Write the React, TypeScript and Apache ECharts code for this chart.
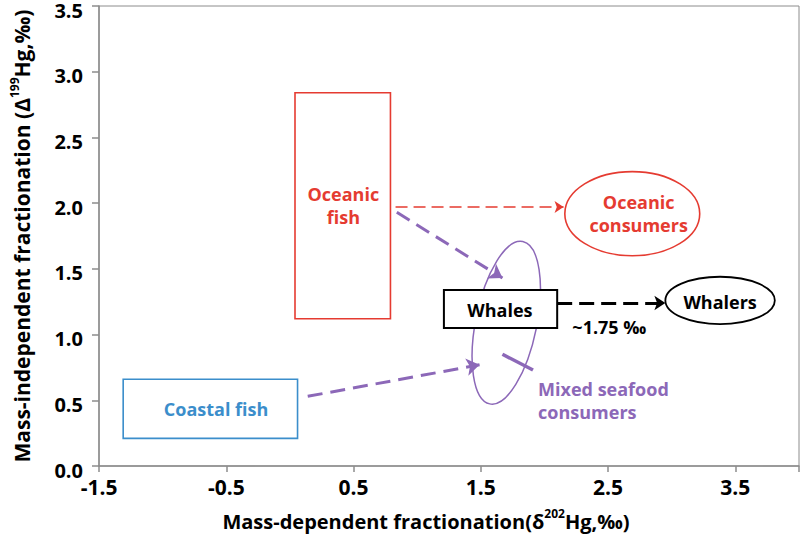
import React, { useEffect, useRef } from "react";
import * as echarts from "echarts";

// ---- axis ranges & tick labels ----
const X_MIN = -1.5;
const X_MAX = 4.0;
const Y_MIN = 0;
const Y_MAX = 3.5;
const xTickLabels = ["-1.5", "-0.5", "0.5", "1.5", "2.5", "3.5"];
const yTickLabels = ["0.0", "0.5", "1.0", "1.5", "2.0", "2.5", "3.0", "3.5"];

// ---- rectangles (data coords) ----
const boxNames = ["Oceanic fish", "Coastal fish", "Whales"];
const boxXRange = [
  [0.04, 0.79],
  [-1.31, 0.06],
  [1.21, 2.1],
];
const boxYRange = [
  [1.12, 2.84],
  [0.21, 0.66],
  [1.05, 1.34],
];

// ---- ellipses (data coords) ----
const ellipseNames = ["Mixed seafood consumers", "Oceanic consumers", "Whalers"];
const ellipseCenter = [
  [1.7, 1.09],
  [2.69, 1.92],
  [3.38, 1.26],
];
const ellipseRadius = [
  [0.24, 0.63],
  [0.53, 0.32],
  [0.43, 0.18],
];
const ellipseTiltDeg = [11.5, 0, 0];

// ---- arrows (data coords) ----
const arrowNames = ["fish→oceanic consumers", "oceanic fish→mixed", "coastal fish→mixed", "whales→whalers"];
const arrowFrom = [
  [0.83, 1.97],
  [0.84, 1.93],
  [0.14, 0.53],
  [2.1, 1.24],
];
const arrowTo = [
  [2.15, 1.97],
  [1.67, 1.43],
  [1.49, 0.77],
  [2.95, 1.24],
];
const pointerLine = [
  [1.67, 0.85],
  [1.91, 0.73],
];

// ---- text labels (data coords) ----
const textLabels = [
  "Oceanic\nfish",
  "Coastal fish",
  "Whales",
  "Oceanic\nconsumers",
  "Whalers",
  "~1.75 ‰",
  "Mixed seafood\nconsumers",
];
const textPos = [
  [0.42, 1.98],
  [-0.58, 0.43],
  [1.65, 1.19],
  [2.74, 1.92],
  [3.38, 1.25],
  [2.51, 1.06],
  [1.95, 0.5],
];

// ---- styles ----
const RED = "#E53B31";
const BLUE = "#3B8ECB";
const PURPLE = "#8C68B8";
const BLACK = "#000000";
const AXIS = "#8C8C8C";
const FONT = '"Open Sans", "DejaVu Sans", sans-serif';
const boxColors = [RED, BLUE, BLACK];
const boxWidths = [1.6, 1.6, 2];
const ellipseColors = [PURPLE, RED, BLACK];
const ellipseWidths = [1.5, 1.6, 1.8];
const arrowColors = [RED, PURPLE, PURPLE, BLACK];
const arrowWidths = [1.6, 3, 3, 3];
const arrowDash = [
  [12, 6],
  [15, 8],
  [15, 8],
  [15, 7],
];
const arrowHead = [9, 13, 13, 11];
const textColors = [RED, BLUE, BLACK, RED, BLACK, BLACK, PURPLE];
const textAlign = ["center", "center", "center", "center", "center", "center", "left"];

function richName(size: number) {
  return {
    b: { fontSize: size, fontWeight: "bold", fontFamily: FONT, color: BLACK, lineHeight: 28 },
    sup: { fontSize: 12, fontWeight: "bold", fontFamily: FONT, color: BLACK, verticalAlign: "top", lineHeight: 19 },
  };
}

export default function App() {
  const ref = useRef<HTMLDivElement>(null);

  useEffect(() => {
    if (!ref.current) return;
    const chart = echarts.init(ref.current, undefined, { renderer: "svg" });

    const option: any = {
      animation: false,
      backgroundColor: "#ffffff",
      grid: {
        left: 99,
        right: 1,
        top: 6,
        bottom: 72,
        show: true,
        borderColor: AXIS,
        borderWidth: 1,
        outerBoundsMode: "none",
      },
      xAxis: [
        {
          type: "value",
          min: X_MIN,
          max: X_MAX,
          show: false,
        },
        {
          type: "value",
          min: 0,
          max: X_MAX - X_MIN,
          interval: 1,
          position: "bottom",
          axisLine: { show: true, onZero: false, lineStyle: { color: AXIS, width: 1.5 } },
          axisTick: { show: true, length: 6, lineStyle: { color: AXIS, width: 1.5 } },
          splitLine: { show: false },
          axisLabel: {
            margin: 10,
            color: BLACK,
            fontWeight: "bold",
            fontSize: 21,
            fontFamily: FONT,
            formatter: (v: number) => xTickLabels[Math.round(v)] ?? "",
          },
          name: "{b|Mass-dependent fractionation(δ}{sup|202}{b|Hg,‰)}",
          nameLocation: "middle",
          nameGap: 41,
          nameTextStyle: {
            fontSize: 20,
            fontWeight: "bold",
            fontFamily: FONT,
            padding: [0, 46, 0, 0],
            rich: richName(20),
          },
        },
      ],
      yAxis: {
        type: "value",
        min: Y_MIN,
        max: Y_MAX,
        interval: 0.5,
        axisLine: { show: true, onZero: false, lineStyle: { color: AXIS, width: 1.5 } },
        axisTick: { show: true, length: 7, lineStyle: { color: AXIS, width: 1.5 } },
        splitLine: { show: false },
        axisLabel: {
          margin: 16,
          color: BLACK,
          fontWeight: "bold",
          fontSize: 20,
          fontFamily: FONT,
          verticalAlign: "top",
          lineHeight: 8,
          formatter: (v: number) => yTickLabels[Math.round(v * 2)] ?? "",
        },
        name: "{b|Mass-independent fractionation (Δ}{sup|199}{b|Hg,‰)}",
        nameLocation: "middle",
        nameGap: 63,
        nameTextStyle: {
          fontSize: 21,
          fontWeight: "bold",
          fontFamily: FONT,
          rich: richName(21),
        },
      },
      series: [
        {
          name: "ellipses",
          type: "custom",
          xAxisIndex: 0,
          yAxisIndex: 0,
          z: 2,
          data: ellipseCenter.map((c, i) => [c[0], c[1], ellipseRadius[i][0], ellipseRadius[i][1], i]),
          renderItem: (params: any, api: any) => {
            const i = api.value(4);
            const c = api.coord([api.value(0), api.value(1)]);
            const s = api.size([api.value(2), api.value(3)]);
            return {
              type: "ellipse",
              x: c[0],
              y: c[1],
              rotation: (-ellipseTiltDeg[i] * Math.PI) / 180,
              shape: { cx: 0, cy: 0, rx: s[0], ry: s[1] },
              style: { fill: "none", stroke: ellipseColors[i], lineWidth: ellipseWidths[i] },
              name: ellipseNames[i],
            };
          },
        },
        {
          name: "boxes",
          type: "custom",
          xAxisIndex: 0,
          yAxisIndex: 0,
          z: 3,
          data: boxXRange.map((r, i) => [r[0], r[1], boxYRange[i][0], boxYRange[i][1], i]),
          renderItem: (params: any, api: any) => {
            const i = api.value(4);
            const p0 = api.coord([api.value(0), api.value(3)]);
            const p1 = api.coord([api.value(1), api.value(2)]);
            return {
              type: "rect",
              shape: { x: p0[0], y: p0[1], width: p1[0] - p0[0], height: p1[1] - p0[1] },
              style: { fill: i === 2 ? "#ffffff" : "none", stroke: boxColors[i], lineWidth: boxWidths[i] },
              name: boxNames[i],
            };
          },
        },
        {
          name: "arrows",
          type: "lines",
          coordinateSystem: "cartesian2d",
          xAxisIndex: 0,
          yAxisIndex: 0,
          z: 4,
          data: arrowFrom.map((f, i) => ({
            name: arrowNames[i],
            coords: [f, arrowTo[i]],
            symbol: ["none", "arrow"],
            symbolSize: arrowHead[i],
            lineStyle: {
              color: arrowColors[i],
              width: arrowWidths[i],
              type: arrowDash[i],
              opacity: 1,
              curveness: 0,
            },
          })),
          silent: true,
        },
        {
          name: "pointer",
          type: "lines",
          coordinateSystem: "cartesian2d",
          xAxisIndex: 0,
          yAxisIndex: 0,
          z: 4,
          symbol: ["none", "none"],
          data: [{ coords: pointerLine, lineStyle: { color: PURPLE, width: 3.5, type: "solid", opacity: 1 } }],
          silent: true,
        },
        {
          name: "labels",
          type: "custom",
          xAxisIndex: 0,
          yAxisIndex: 0,
          z: 5,
          data: textPos.map((p, i) => [p[0], p[1], i]),
          renderItem: (params: any, api: any) => {
            const i = api.value(2);
            const c = api.coord([api.value(0), api.value(1)]);
            return {
              type: "text",
              x: c[0],
              y: c[1],
              style: {
                text: textLabels[i],
                fill: textColors[i],
                fontFamily: FONT,
                fontWeight: "bold",
                fontSize: 18,
                lineHeight: 23,
                align: textAlign[i],
                verticalAlign: "middle",
              },
            };
          },
        },
      ],
    };

    chart.setOption(option);
    return () => chart.dispose();
  }, []);

  return <div ref={ref} style={{ position: "absolute", left: 0, top: 0, width: 800, height: 538 }} />;
}
